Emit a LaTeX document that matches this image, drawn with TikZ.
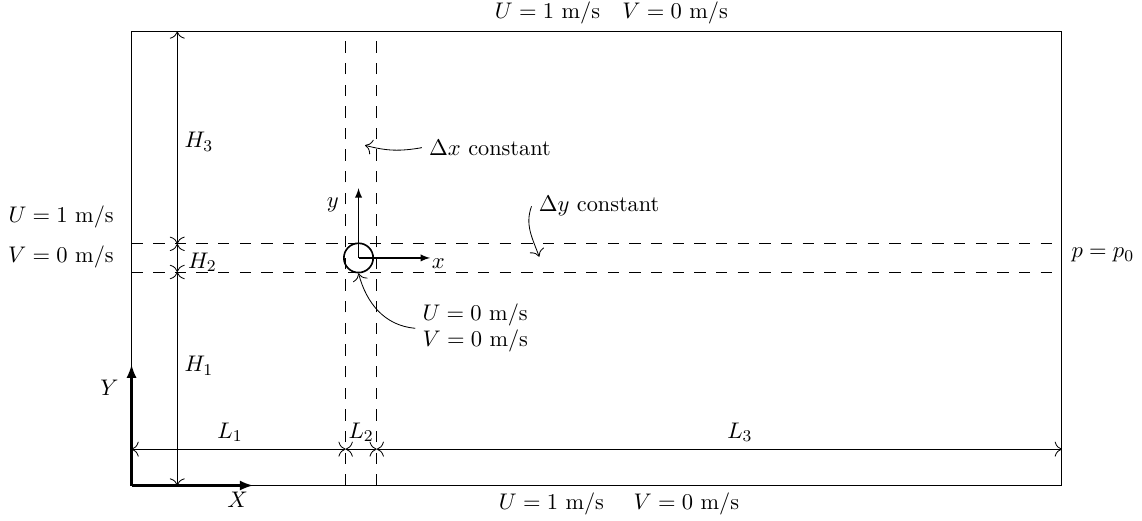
\documentclass[tikz,border=0pt]{standalone}
\usetikzlibrary{arrows.meta}
\begin{document}
\begin{tikzpicture}[
  >={To[scale=1.4]},
  every node/.style={font=\fontsize{10.8}{12.6}\selectfont},
  gridline/.style={dash pattern=on 5.5pt off 5pt},
  dim/.style={<->},
  note/.style={->},
  axis/.style={-latex, very thick},
  local/.style={-latex, semithick},
  obstacle/.style={draw, circle, thick, minimum size=0.5cm, inner sep=0pt}
]
\useasboundingbox (-2.242,-0.588) rectangle (17.226,8.277);
\coordinate (o) at (0,0);
\coordinate (tr) at (15.86,7.74);
\draw (o) rectangle (tr);
\draw[gridline] (3.65,0) -- (3.65,7.74);
\draw[gridline] (4.18,0) -- (4.18,7.74);
\draw[gridline] (0,3.64) -- (15.86,3.64);
\draw[gridline] (0,4.12) -- (15.86,4.12);
\node[obstacle] (obs) at (3.87,3.88) {};
\coordinate (ytip) at (3.87,5.07);
\coordinate (xtip) at (5.09,3.88);
\draw[local] (obs.center) -- (ytip);
\draw[local] (obs.center) -- (xtip);
\node (ylab) at (3.43,4.78) {$y$};
\node (xlab) at (5.23,3.79) {$x$};
\coordinate (Yend) at (0,2.06);
\coordinate (Xend) at (2.07,0);
\draw[axis] (o) -- (Yend);
\draw[axis] (o) -- (Xend);
\node (Ylab) at (-0.375,1.67) {$Y$};
\node (Xlab) at (1.81,-0.24) {$X$};
\coordinate (h0) at (0.78,0);
\coordinate (h1) at (0.78,3.64);
\coordinate (h2) at (0.78,4.12);
\coordinate (h3) at (0.78,7.74);
\draw[dim] (h0) -- node[right, pos=0.56] (lh1) {$H_1$} (h1);
\draw[dim] (h1) -- node[right, xshift=0.06cm, yshift=-0.07cm] (lh2) {$H_2$} (h2);
\draw[dim] (h2) -- node[right, pos=0.48] (lh3) {$H_3$} (h3);
\coordinate (l0) at (0,0.62);
\coordinate (l1) at (3.65,0.62);
\coordinate (l2) at (4.18,0.62);
\coordinate (l3) at (15.86,0.62);
\draw[dim] (l0) -- node[above, pos=0.46] (ll1) {$L_1$} (l1);
\draw[dim] (l1) -- node[above] (ll2) {$L_2$} (l2);
\draw[dim] (l2) -- node[above, pos=0.53] (ll3) {$L_3$} (l3);
\node[above] (top) at (8.18,7.74) {$U = 1$ m/s\quad $V = 0$ m/s};
\node[below] (bottom) at (8.31,0) {$U = 1$ m/s\quad\ $V = 0$ m/s};
\node[left] (uin) at (-0.18,4.58) {$U = 1$ m/s};
\node[left] (vin) at (-0.18,3.90) {$V = 0$ m/s};
\node[right] (pout) at (15.9,3.93) {$p = p_0$};
\node (dx) at (6.11,5.76) {$\Delta x$ constant};
\node (dy) at (7.97,4.76) {$\Delta y$ constant};
\node[align=left] (wall) at (5.86,2.68) {$U = 0$ m/s\\$V = 0$ m/s};
\coordinate (dxtip) at (3.98,5.80);
\coordinate (dytip) at (6.95,3.90);
\draw[note] (dx.west) to[out=190, in=-15] (dxtip);
\draw[note] (dy.west) to[out=250, in=110] (dytip);
\draw[note] (wall.west) to[out=175, in=-75] (obs.south);
\end{tikzpicture}
\end{document}
